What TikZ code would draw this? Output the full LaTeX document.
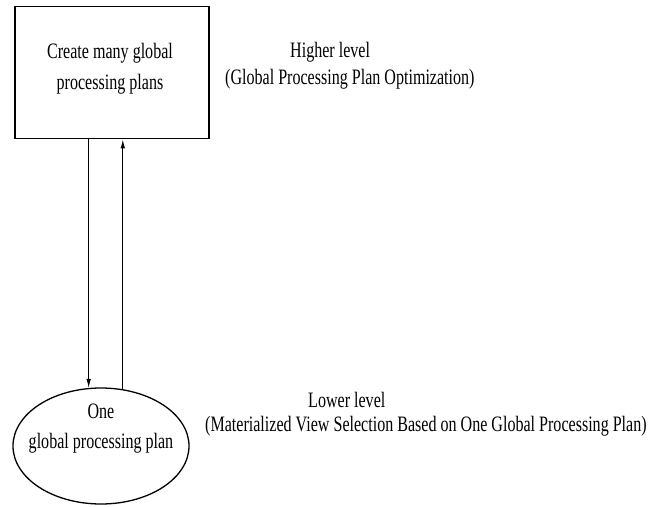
\documentclass[tikz,border=0pt]{standalone}
\usepackage{fontspec}
\setmainfont{Liberation Serif}[FakeStretch=0.73]
\usetikzlibrary{shapes.geometric,arrows.meta}
\begin{document}
\begin{tikzpicture}[x=1pt,y=-1pt,
  txt/.style={inner sep=0pt, font=\fontsize{22}{31}\selectfont},
  boxstyle/.style={draw, line width=1.8pt, inner sep=0pt, minimum width=194pt, minimum height=132pt},
  ellstyle/.style={draw, ellipse, line width=1.3pt, inner sep=0pt, minimum width=176pt, minimum height=116pt},
  conn/.style={line width=0.9pt, -{Latex[length=9pt,width=4.5pt]}}]
\useasboundingbox (0,0) rectangle (660,506);
\node[boxstyle] (box) at (112,72.5) {};
\node[ellstyle] (ell) at (101,446) {};
\node[txt, align=center, anchor=base] (boxtxt) at (110,89) {Create many global\\processing plans};
\node[txt, align=center, anchor=base, font=\fontsize{22}{30}\selectfont] (elltxt) at (101,448) {One\\global processing plan};
\node[txt, anchor=base west] (hi) at (290,57) {Higher level};
\node[txt, anchor=base west] (hisub) at (225,84) {(Global Processing Plan Optimization)};
\node[txt, anchor=base west] (lo) at (308,407) {Lower level};
\node[txt, anchor=base west] (losub) at (205,431) {(Materialized View Selection Based on One Global Processing Plan)};
\draw[conn] (box.south -| ell.102.8) -- (ell.102.8);
\draw[conn] (ell.69.5) -- (box.south -| ell.69.5);
\end{tikzpicture}
\end{document}
